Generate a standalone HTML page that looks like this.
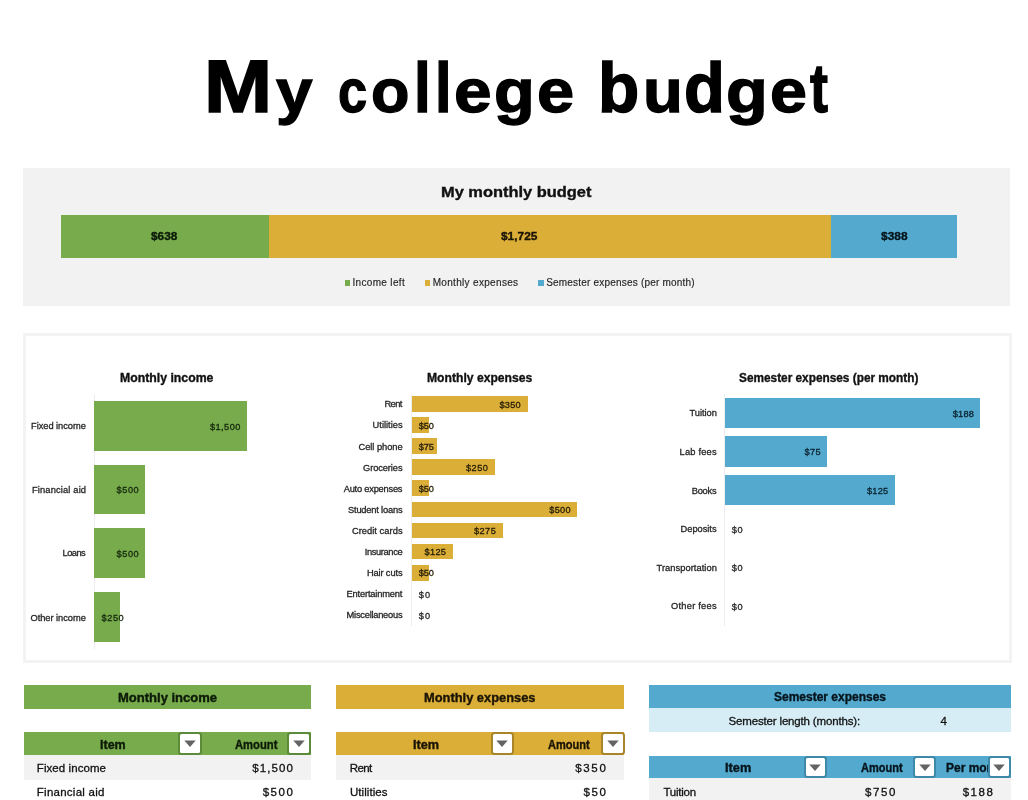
<!DOCTYPE html>
<html lang="en"><head><meta charset="utf-8">
<title>My college budget</title>
<style>
html,body{margin:0;padding:0;background:#fff;}
body{width:1028px;height:800px;position:relative;overflow:hidden;font-family:"Liberation Sans", sans-serif;}
.r{position:absolute;}
.t{position:absolute;white-space:nowrap;line-height:1;margin:0;padding:0;transform-origin:0 0;}
.b{font-weight:bold;-webkit-text-stroke:0.35px currentColor;}
.s{-webkit-text-stroke:0.3px currentColor;}
.s1{-webkit-text-stroke:0.15px currentColor;}
#title{margin:0;padding:0;font-size:74.4px;font-weight:bold;color:#000;}
#title .t{transform-origin:0 62.98px;-webkit-text-stroke:1.6px #000;}
.dd{position:absolute;box-sizing:border-box;background:#fff;border:2px solid #666;border-radius:3.5px;}
.dd svg{position:absolute;left:50%;top:50%;width:12px;height:7.4px;margin:-3.4px 0 0 -6.2px;display:block;}
</style></head>
<body>
<div class="r" style="left:23px;top:168px;width:987px;height:137.5px;background:#F2F2F2;"></div>
<div class="r" style="left:61px;top:214.5px;width:207.6px;height:43px;background:#77AB4C;"></div>
<div class="r" style="left:268.6px;top:214.5px;width:562.4px;height:43px;background:#DBAE38;"></div>
<div class="r" style="left:831px;top:214.5px;width:126.2px;height:43px;background:#54AACE;"></div>
<div class="r" style="left:344.8px;top:280.2px;width:5.5px;height:5.6px;background:#77AB4C;"></div>
<div class="r" style="left:424.8px;top:280.2px;width:5.6px;height:5.6px;background:#DBAE38;"></div>
<div class="r" style="left:538.1px;top:280.2px;width:5.6px;height:5.6px;background:#54AACE;"></div>
<div class="r" style="left:23px;top:333px;width:989px;height:330px;background:#fff;box-sizing:border-box;border:3px solid #F3F3F3;"></div>
<div class="r" style="left:93.5px;top:394px;width:1px;height:255px;background:#EDEDED;"></div>
<div class="r" style="left:94.2px;top:401px;width:153.19px;height:49.8px;background:#77AB4C;"></div>
<div class="r" style="left:94.2px;top:464.7px;width:51.06px;height:49.8px;background:#77AB4C;"></div>
<div class="r" style="left:94.2px;top:528.1px;width:51.06px;height:49.8px;background:#77AB4C;"></div>
<div class="r" style="left:94.2px;top:592.4px;width:25.53px;height:49.8px;background:#77AB4C;"></div>
<div class="r" style="left:411.3px;top:393.5px;width:1px;height:232px;background:#EDEDED;"></div>
<div class="r" style="left:412px;top:396.2px;width:115.78px;height:15.8px;background:#DBAE38;"></div>
<div class="r" style="left:412px;top:417.27px;width:16.54px;height:15.8px;background:#DBAE38;"></div>
<div class="r" style="left:412px;top:438.34px;width:24.81px;height:15.8px;background:#DBAE38;"></div>
<div class="r" style="left:412px;top:459.41px;width:82.7px;height:15.8px;background:#DBAE38;"></div>
<div class="r" style="left:412px;top:480.48px;width:16.54px;height:15.8px;background:#DBAE38;"></div>
<div class="r" style="left:412px;top:501.55px;width:165.4px;height:15.8px;background:#DBAE38;"></div>
<div class="r" style="left:412px;top:522.62px;width:90.97px;height:15.8px;background:#DBAE38;"></div>
<div class="r" style="left:412px;top:543.69px;width:41.35px;height:15.8px;background:#DBAE38;"></div>
<div class="r" style="left:412px;top:564.76px;width:16.54px;height:15.8px;background:#DBAE38;"></div>
<div class="r" style="left:724px;top:393.5px;width:1px;height:232px;background:#EDEDED;"></div>
<div class="r" style="left:724.7px;top:397.8px;width:255.6px;height:30.4px;background:#54AACE;"></div>
<div class="r" style="left:724.7px;top:436.4px;width:102.24px;height:30.4px;background:#54AACE;"></div>
<div class="r" style="left:724.7px;top:475px;width:170.4px;height:30.4px;background:#54AACE;"></div>
<div class="r" style="left:23.7px;top:685.2px;width:287.8px;height:23.9px;background:#77AB4C;"></div>
<div class="r" style="left:23.7px;top:731.9px;width:287.8px;height:23.3px;background:#77AB4C;"></div>
<div class="r" style="left:23.7px;top:755.2px;width:287.8px;height:24.8px;background:#F2F2F2;"></div>
<div class="r" style="left:336.4px;top:685.2px;width:287.8px;height:23.9px;background:#DBAE38;"></div>
<div class="r" style="left:336.4px;top:731.9px;width:287.8px;height:23.3px;background:#DBAE38;"></div>
<div class="r" style="left:336.4px;top:755.2px;width:287.8px;height:24.8px;background:#F2F2F2;"></div>
<div class="r" style="left:649.3px;top:685.1px;width:362px;height:23px;background:#54AACE;"></div>
<div class="r" style="left:649.3px;top:708.1px;width:362px;height:24.3px;background:#D6EDF5;"></div>
<div class="r" style="left:649.3px;top:755.7px;width:362px;height:22.4px;background:#54AACE;"></div>
<div class="r" style="left:649.3px;top:778.1px;width:362px;height:21.9px;background:#F2F2F2;"></div>
<h1 id="title"><span class="t b h" style="left:203.59px;top:50.42px;transform:scale(1.0996,1.0036);">M</span><span class="t b h" style="left:275.8px;top:50.42px;transform:scale(0.8817,0.8299);">y</span> <span class="t b h" style="left:338.06px;top:50.42px;transform:scale(0.7043,0.8160);">c</span><span class="t b h" style="left:371.23px;top:50.42px;transform:scale(0.8455,0.8160);">o</span><span class="t b h" style="left:414.04px;top:50.42px;transform:scale(0.8086,0.9371);">l</span><span class="t b h" style="left:434.78px;top:50.42px;transform:scale(0.8000,0.9371);">l</span><span class="t b h" style="left:453.79px;top:50.42px;transform:scale(0.9086,0.8160);">e</span><span class="t b h" style="left:493.62px;top:50.42px;transform:scale(0.8967,0.8160);">g</span><span class="t b h" style="left:536.61px;top:50.42px;transform:scale(0.8978,0.8160);">e</span> <span class="t b h" style="left:597.98px;top:50.42px;transform:scale(0.9071,0.9371);">b</span><span class="t b h" style="left:642.74px;top:50.42px;transform:scale(0.8763,0.8299);">u</span><span class="t b h" style="left:684.21px;top:50.42px;transform:scale(0.8993,0.9371);">d</span><span class="t b h" style="left:726.36px;top:50.42px;transform:scale(0.9202,0.8160);">g</span><span class="t b h" style="left:770.02px;top:50.42px;transform:scale(0.8925,0.8160);">e</span><span class="t b h" style="left:809.7px;top:50.42px;transform:scale(0.7250,0.9319);">t</span></h1>
<span class="t b" style="left:441.34px;top:185px;font-size:14px;color:#111;transform:scaleX(1.1724);">My monthly budget</span>
<span class="t b" style="left:151.3px;top:231px;font-size:11.5px;color:#0c1a08;transform:scaleX(1.0283);">$638</span>
<span class="t b" style="left:500.6px;top:231px;font-size:11.5px;color:#1a1405;transform:scaleX(1.0351);">$1,725</span>
<span class="t b" style="left:881px;top:231px;font-size:11.5px;color:#06141c;transform:scaleX(1.0402);">$388</span>
<span class="t s1" style="left:352.4px;top:278px;font-size:10px;color:#262626;letter-spacing:0.337px;">Income left</span>
<span class="t s1" style="left:432.7px;top:278px;font-size:10px;color:#262626;letter-spacing:0.320px;">Monthly expenses</span>
<span class="t s1" style="left:546.2px;top:278px;font-size:10px;color:#262626;letter-spacing:0.200px;">Semester expenses (per month)</span>
<span class="t b" style="left:120.21px;top:372px;font-size:12.5px;color:#111;transform:scaleX(0.9820);">Monthly income</span>
<span class="t b" style="left:426.92px;top:372px;font-size:12.5px;color:#111;transform:scaleX(0.9710);">Monthly expenses</span>
<span class="t b" style="left:738.82px;top:372px;font-size:12.5px;color:#111;transform:scaleX(0.9460);">Semester expenses (per month)</span>
<span class="t s" style="left:31px;top:422px;font-size:9.3px;color:#262626;letter-spacing:-0.039px;">Fixed income</span>
<span class="t s" style="left:210px;top:423px;font-size:9.2px;color:#16290d;letter-spacing:0.436px;">$1,500</span>
<span class="t s" style="left:31.9px;top:486px;font-size:9.3px;color:#262626;letter-spacing:0.163px;">Financial aid</span>
<span class="t s" style="left:116.5px;top:486px;font-size:9.2px;color:#16290d;letter-spacing:0.583px;">$500</span>
<span class="t s" style="left:62.6px;top:549px;font-size:9.3px;color:#262626;letter-spacing:-0.547px;">Loans</span>
<span class="t s" style="left:116.5px;top:550px;font-size:9.2px;color:#16290d;letter-spacing:0.583px;">$500</span>
<span class="t s" style="left:30.5px;top:614px;font-size:9.3px;color:#262626;letter-spacing:-0.041px;">Other income</span>
<span class="t s" style="left:101.5px;top:614px;font-size:9.2px;color:#16290d;letter-spacing:0.583px;">$250</span>
<span class="t s" style="left:384.5px;top:400px;font-size:9.3px;color:#262626;letter-spacing:-0.620px;">Rent</span>
<span class="t s" style="left:499.4px;top:401px;font-size:9.2px;color:#231c06;letter-spacing:0.283px;">$350</span>
<span class="t s" style="left:372.6px;top:421px;font-size:9.3px;color:#262626;letter-spacing:-0.003px;">Utilities</span>
<span class="t s" style="left:418.8px;top:422px;font-size:9.2px;color:#231c06;letter-spacing:-0.117px;">$50</span>
<span class="t s" style="left:358.5px;top:443px;font-size:9.3px;color:#262626;letter-spacing:-0.033px;">Cell phone</span>
<span class="t s" style="left:418.8px;top:443px;font-size:9.2px;color:#231c06;letter-spacing:-0.117px;">$75</span>
<span class="t s" style="left:363px;top:464px;font-size:9.3px;color:#262626;letter-spacing:-0.095px;">Groceries</span>
<span class="t s" style="left:466px;top:464px;font-size:9.2px;color:#231c06;letter-spacing:0.483px;">$250</span>
<span class="t s" style="left:343.7px;top:485px;font-size:9.3px;color:#262626;letter-spacing:-0.223px;">Auto expenses</span>
<span class="t s" style="left:418.8px;top:485px;font-size:9.2px;color:#231c06;letter-spacing:-0.117px;">$50</span>
<span class="t s" style="left:348px;top:506px;font-size:9.3px;color:#262626;letter-spacing:-0.194px;">Student loans</span>
<span class="t s" style="left:549.3px;top:506px;font-size:9.2px;color:#231c06;letter-spacing:0.283px;">$500</span>
<span class="t s" style="left:351.9px;top:527px;font-size:9.3px;color:#262626;letter-spacing:0.047px;">Credit cards</span>
<span class="t s" style="left:473.9px;top:527px;font-size:9.2px;color:#231c06;letter-spacing:0.483px;">$275</span>
<span class="t s" style="left:364.7px;top:548px;font-size:9.3px;color:#262626;letter-spacing:-0.359px;">Insurance</span>
<span class="t s" style="left:424.6px;top:548px;font-size:9.2px;color:#231c06;letter-spacing:0.283px;">$125</span>
<span class="t s" style="left:366.9px;top:569px;font-size:9.3px;color:#262626;letter-spacing:-0.130px;">Hair cuts</span>
<span class="t s" style="left:418.8px;top:569px;font-size:9.2px;color:#231c06;letter-spacing:-0.117px;">$50</span>
<span class="t s" style="left:346.6px;top:590px;font-size:9.3px;color:#262626;letter-spacing:-0.185px;">Entertainment</span>
<span class="t s" style="left:418.8px;top:591px;font-size:9.2px;color:#262626;letter-spacing:1.083px;">$0</span>
<span class="t s" style="left:346.6px;top:611px;font-size:9.3px;color:#262626;letter-spacing:-0.248px;">Miscellaneous</span>
<span class="t s" style="left:418.8px;top:612px;font-size:9.2px;color:#262626;letter-spacing:1.083px;">$0</span>
<span class="t s" style="left:689.5px;top:409px;font-size:9.3px;color:#262626;letter-spacing:-0.033px;">Tuition</span>
<span class="t s" style="left:952.7px;top:410px;font-size:9.2px;color:#0a222e;letter-spacing:0.283px;">$188</span>
<span class="t s" style="left:679.6px;top:448px;font-size:9.3px;color:#262626;letter-spacing:0.182px;">Lab fees</span>
<span class="t s" style="left:804.6px;top:448px;font-size:9.2px;color:#0a222e;letter-spacing:0.333px;">$75</span>
<span class="t s" style="left:691.8px;top:487px;font-size:9.3px;color:#262626;letter-spacing:-0.274px;">Books</span>
<span class="t s" style="left:866.9px;top:487px;font-size:9.2px;color:#0a222e;letter-spacing:0.283px;">$125</span>
<span class="t s" style="left:680.6px;top:525px;font-size:9.3px;color:#262626;letter-spacing:-0.033px;">Deposits</span>
<span class="t s" style="left:731.7px;top:526px;font-size:9.2px;color:#262626;letter-spacing:0.583px;">$0</span>
<span class="t s" style="left:656.6px;top:564px;font-size:9.3px;color:#262626;letter-spacing:0.050px;">Transportation</span>
<span class="t s" style="left:731.7px;top:564px;font-size:9.2px;color:#262626;letter-spacing:0.583px;">$0</span>
<span class="t s" style="left:671.1px;top:602px;font-size:9.3px;color:#262626;letter-spacing:0.225px;">Other fees</span>
<span class="t s" style="left:731.7px;top:603px;font-size:9.2px;color:#262626;letter-spacing:0.583px;">$0</span>
<span class="t b" style="left:117.73px;top:692px;font-size:12px;color:#0d1a08;transform:scaleX(1.0847);">Monthly income</span>
<span class="t b" style="left:99.67px;top:739px;font-size:12px;color:#0d1a08;transform:scaleX(1.0429);">Item</span>
<span class="t b" style="left:234.71px;top:739px;font-size:12px;color:#0d1a08;transform:scaleX(0.9350);">Amount</span>
<span class="t s" style="left:36.8px;top:763px;font-size:11.5px;color:#111;letter-spacing:0.073px;">Fixed income</span>
<span class="t s" style="left:252.2px;top:763px;font-size:11.5px;color:#111;letter-spacing:1.104px;">$1,500</span>
<span class="t s" style="left:36.8px;top:787px;font-size:11.5px;color:#111;letter-spacing:0.253px;">Financial aid</span>
<span class="t s" style="left:262.7px;top:787px;font-size:11.5px;color:#111;letter-spacing:1.538px;">$500</span>
<span class="t b" style="left:423.94px;top:692px;font-size:12px;color:#1a1405;transform:scaleX(1.0715);">Monthly expenses</span>
<span class="t b" style="left:412.56px;top:739px;font-size:12px;color:#1a1405;transform:scaleX(1.0559);">Item</span>
<span class="t b" style="left:548.02px;top:739px;font-size:12px;color:#1a1405;transform:scaleX(0.9217);">Amount</span>
<span class="t s" style="left:349.8px;top:763px;font-size:11.5px;color:#111;letter-spacing:-0.599px;">Rent</span>
<span class="t s" style="left:575.2px;top:763px;font-size:11.5px;color:#111;letter-spacing:1.671px;">$350</span>
<span class="t s" style="left:349.9px;top:787px;font-size:11.5px;color:#111;letter-spacing:0.074px;">Utilities</span>
<span class="t s" style="left:583.5px;top:787px;font-size:11.5px;color:#111;letter-spacing:1.554px;">$50</span>
<span class="t b" style="left:773.9px;top:691px;font-size:12px;color:#06141c;transform:scaleX(0.9991);">Semester expenses</span>
<span class="t s" style="left:728.6px;top:716px;font-size:11.5px;color:#111;letter-spacing:-0.167px;">Semester length (months):</span>
<span class="t s" style="left:940.6px;top:716px;font-size:11.5px;color:#111;">4</span>
<span class="t b" style="left:725.35px;top:762px;font-size:12px;color:#06141c;transform:scaleX(1.0645);">Item</span>
<span class="t b" style="left:860.92px;top:762px;font-size:12px;color:#06141c;transform:scaleX(0.9195);">Amount</span>
<span class="t b" style="left:945.5px;top:762px;font-size:12px;color:#06141c;transform:scaleX(0.9981);">Per month</span>
<span class="t s" style="left:663.5px;top:787px;font-size:11.5px;color:#111;letter-spacing:-0.249px;">Tuition</span>
<span class="t s" style="left:864.9px;top:787px;font-size:11.5px;color:#111;letter-spacing:1.671px;">$750</span>
<span class="t s" style="left:962.7px;top:787px;font-size:11.5px;color:#111;letter-spacing:1.538px;">$188</span>
<div class="dd" style="left:177.7px;top:732.3px;width:24.1px;height:22.9px;border-color:#5b8a3a;"><svg viewBox="0 0 12 7"><path d="M0.3 0.2 L11.7 0.2 L6 6.8 Z" fill="#636363"/></svg></div>
<div class="dd" style="left:287px;top:732.3px;width:24.4px;height:22.9px;border-color:#5b8a3a;"><svg viewBox="0 0 12 7"><path d="M0.3 0.2 L11.7 0.2 L6 6.8 Z" fill="#636363"/></svg></div>
<div class="dd" style="left:490.8px;top:732.3px;width:23.6px;height:22.9px;border-color:#a9852a;"><svg viewBox="0 0 12 7"><path d="M0.3 0.2 L11.7 0.2 L6 6.8 Z" fill="#636363"/></svg></div>
<div class="dd" style="left:600.8px;top:732.3px;width:23.9px;height:22.9px;border-color:#a9852a;"><svg viewBox="0 0 12 7"><path d="M0.3 0.2 L11.7 0.2 L6 6.8 Z" fill="#636363"/></svg></div>
<div class="dd" style="left:803.8px;top:755.7px;width:23.2px;height:22.5px;border-color:#3f88a8;"><svg viewBox="0 0 12 7"><path d="M0.3 0.2 L11.7 0.2 L6 6.8 Z" fill="#636363"/></svg></div>
<div class="dd" style="left:913.4px;top:755.7px;width:22.8px;height:22.5px;border-color:#3f88a8;"><svg viewBox="0 0 12 7"><path d="M0.3 0.2 L11.7 0.2 L6 6.8 Z" fill="#636363"/></svg></div>
<div class="dd" style="left:987.9px;top:755.7px;width:23.2px;height:22.5px;border-color:#3f88a8;"><svg viewBox="0 0 12 7"><path d="M0.3 0.2 L11.7 0.2 L6 6.8 Z" fill="#636363"/></svg></div>
</body></html>
